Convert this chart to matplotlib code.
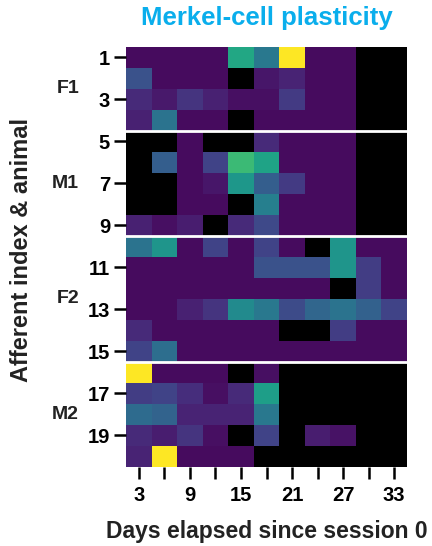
import numpy as np
import matplotlib
matplotlib.use('Agg')
import matplotlib.pyplot as plt

plt.rcParams['font.family'] = ['Liberation Sans', 'DejaVu Sans']
plt.rcParams['font.weight'] = 'bold'

nan = np.nan
days = [3, 6, 9, 12, 15, 18, 21, 24, 27, 30, 33]
day_labels = ['3', '', '9', '', '15', '', '21', '', '27', '', '33']
animals = ['F1', 'M1', 'F2', 'M2']

# plasticity values per afferent (rows) and session (columns); nan = no data (black)
f1 = [[0.03, 0.03, 0.03, 0.03, 0.6, 0.4, 1.0, 0.03, 0.03, nan, nan],
      [0.25, 0.03, 0.03, 0.03, nan, 0.06, 0.1, 0.03, 0.03, nan, nan],
      [0.12, 0.07, 0.15, 0.09, 0.04, 0.04, 0.17, 0.03, 0.03, nan, nan],
      [0.09, 0.38, 0.03, 0.03, nan, 0.03, 0.03, 0.03, 0.03, nan, nan]]
m1 = [[nan, nan, 0.03, nan, nan, 0.12, 0.03, 0.03, 0.03, nan, nan],
      [nan, 0.3, 0.03, 0.2, 0.68, 0.58, 0.03, 0.03, 0.03, nan, nan],
      [nan, nan, 0.03, 0.06, 0.53, 0.3, 0.17, 0.03, 0.03, nan, nan],
      [nan, nan, 0.03, 0.03, nan, 0.43, 0.03, 0.03, 0.03, nan, nan],
      [0.09, 0.04, 0.08, nan, 0.12, 0.22, 0.03, 0.03, 0.03, nan, nan]]
f2 = [[0.38, 0.52, 0.03, 0.2, 0.03, 0.2, 0.03, nan, 0.52, 0.03, 0.03],
      [0.03, 0.03, 0.03, 0.03, 0.03, 0.25, 0.25, 0.25, 0.52, 0.18, 0.03],
      [0.03, 0.03, 0.03, 0.03, 0.03, 0.03, 0.03, 0.03, nan, 0.18, 0.03],
      [0.03, 0.03, 0.09, 0.15, 0.48, 0.4, 0.23, 0.33, 0.38, 0.31, 0.2],
      [0.12, 0.03, 0.03, 0.03, 0.03, 0.03, nan, nan, 0.18, 0.03, 0.03],
      [0.2, 0.36, 0.03, 0.03, 0.03, 0.03, 0.03, 0.03, 0.03, 0.03, 0.03]]
m2 = [[1.0, 0.03, 0.03, 0.03, nan, 0.04, nan, nan, nan, nan, nan],
      [0.18, 0.2, 0.13, 0.04, 0.12, 0.56, nan, nan, nan, nan, nan],
      [0.35, 0.32, 0.1, 0.1, 0.1, 0.4, nan, nan, nan, nan, nan],
      [0.12, 0.08, 0.15, 0.04, nan, 0.2, nan, 0.08, 0.05, nan, nan],
      [0.1, 1.0, 0.03, 0.03, 0.03, nan, nan, nan, nan, nan, nan]]

groups = [f1, m1, f2, m2]
data = np.array(f1 + m1 + f2 + m2, dtype=float)
n_rows, n_cols = data.shape

fig = plt.figure(figsize=(4.32, 5.46), dpi=100)
ax = fig.add_axes([126 / 432, 1 - 467 / 546, 281 / 432, 420 / 546])

cmap = plt.get_cmap('viridis').copy()
cmap.set_bad('black')
ax.imshow(np.ma.masked_invalid(data), cmap=cmap, vmin=0, vmax=1,
          aspect='auto', interpolation='nearest',
          extent=(-0.5, n_cols - 0.5, n_rows + 0.5, 0.5))

# white separators between animals
edge = 0
for g in groups[:-1]:
    edge += len(g)
    ax.axhline(edge + 0.5, color='white', lw=2)

# animal labels
start = 0
for name, g in zip(animals, groups):
    mid = start + (len(g) + 1) / 2
    ax.text(-0.167, mid, name, transform=ax.get_yaxis_transform(),
            ha='right', va='center', fontsize=14, fontweight='bold', color='#222222')
    start += len(g)

ax.set_xticks(range(n_cols))
ax.set_xticklabels(day_labels, fontsize=14.5, fontweight='bold')
ax.set_yticks(range(1, n_rows + 1, 2))
ax.set_yticklabels([str(i) for i in range(1, n_rows + 1, 2)], fontsize=14.5, fontweight='bold')
ax.tick_params(axis='both', length=8.5, width=1.8, color='black')
ax.tick_params(axis='x', pad=5)
ax.tick_params(axis='y', pad=3)
for s in ax.spines.values():
    s.set_visible(False)

ax.set_xlabel('Days elapsed since session 0', fontsize=16.5, fontweight='bold', color='#222222')
ax.xaxis.set_label_coords(0.5, -0.126)
ax.set_ylabel('Afferent index & animal', fontsize=17, fontweight='bold', color='#222222')
ax.yaxis.set_label_coords(-0.331, 0.517)
fig.text(266.5 / 432, 1 - 18 / 546, 'Merkel-cell plasticity', color='#0aaeec',
         fontsize=18.5, fontweight='bold', ha='center', va='center')

fig.savefig('out.png', dpi=100)
